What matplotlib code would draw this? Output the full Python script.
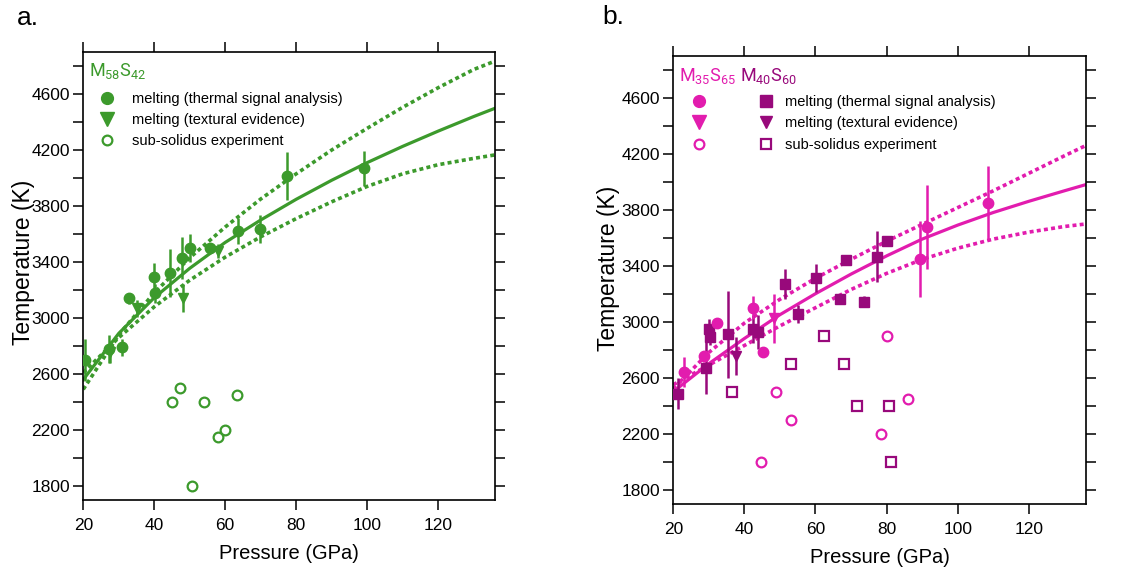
import matplotlib
matplotlib.use("Agg")
import matplotlib.pyplot as plt
from matplotlib.lines import Line2D

plt.rcParams["font.family"] = ["Liberation Sans", "DejaVu Sans"]
plt.rcParams["mathtext.fontset"] = "custom"
plt.rcParams["mathtext.rm"] = "Roboto"

GREEN = "#3c9a2c"
PINK = "#e21cae"
PURPLE = "#98097b"

# axis ticks
x_ticks = [20, 40, 60, 80, 100, 120]
x_tick_labels = ["20", "40", "60", "80", "100", "120"]
y_ticks = [1800, 2000, 2200, 2400, 2600, 2800, 3000, 3200, 3400, 3600,
           3800, 4000, 4200, 4400, 4600, 4800]
y_tick_labels = ["1800", "", "2200", "", "2600", "", "3000", "", "3400", "",
                 "3800", "", "4200", "", "4600", ""]

# ---- panel a : M58S42 ----
a_melt_p = [20.5, 27.2, 31.0, 33.0, 40.2, 40.0, 44.3, 47.8, 50.0, 55.6,
            63.5, 69.9, 77.4, 99.2]
a_melt_t = [2700, 2775, 2790, 3140, 3176, 3291, 3320, 3431, 3502, 3502,
            3621, 3636, 4014, 4069]
a_melt_err = [150, 100, 60, 40, 70, 100, 170, 150, 100, 20,
              90, 100, 170, 125]

a_tex_p = [27.5, 35.2, 48.1, 58.0]
a_tex_t = [2755, 3069, 3141, 3481]
a_tex_err = [80, 60, 100, 50]

a_sub_p = [45.0, 47.3, 50.6, 54.1, 58.0, 60.0, 63.3]
a_sub_t = [2400, 2500, 1800, 2400, 2150, 2200, 2450]

fit_p = [20, 30, 40, 50, 60, 70, 80, 90, 100, 110, 120, 130, 136]
a_fit = [2560, 2890, 3145, 3355, 3540, 3700, 3848, 3984, 4110, 4226, 4335,
         4439, 4498]
a_fit_hi = [2490, 2880, 3180, 3430, 3650, 3850, 4030, 4200, 4355, 4505, 4645,
            4775, 4835]
a_fit_lo = [2610, 2860, 3080, 3270, 3435, 3580, 3710, 3830, 3940, 4030, 4095,
            4140, 4165]

# ---- panel b : M35S65 (pink) and M40S60 (purple) ----
b_melt_p = [23.0, 28.6, 32.2, 42.5, 45.2, 89.3, 91.5, 108.6]
b_melt_t = [2640, 2754, 2994, 3101, 2783, 3447, 3673, 3850]
b_melt_err = [105, 40, 30, 80, 30, 270, 300, 265]

b_tex_p = [48.4]
b_tex_t = [3023]
b_tex_err = [175]

b_sub_p = [44.7, 49.0, 53.2, 78.3, 80.1, 86.0]
b_sub_t = [2000, 2500, 2300, 2200, 2900, 2450]

c_melt_p = [21.4, 29.2, 30.1, 30.4, 35.4, 42.5, 43.7, 51.4, 55.2, 60.2,
            67.0, 68.7, 73.6, 77.2, 80.2]
c_melt_t = [2485, 2669, 2947, 2892, 2911, 2951, 2927, 3269, 3053, 3312,
            3160, 3443, 3144, 3465, 3576]
c_melt_err = [110, 185, 70, 60, 310, 100, 120, 110, 65, 100,
              20, 30, 40, 180, 30]

c_tex_p = [37.7]
c_tex_t = [2754]
c_tex_err = [135]

c_sub_p = [36.6, 53.0, 62.3, 68.0, 71.7, 80.8, 81.3]
c_sub_t = [2500, 2700, 2900, 2700, 2400, 2400, 2000]

b_fit = [2500, 2700, 2880, 3050, 3200, 3340, 3470, 3590, 3690, 3780, 3860,
         3935, 3979]
b_fit_hi = [2520, 2780, 2990, 3160, 3310, 3445, 3575, 3695, 3815, 3935, 4060,
            4185, 4258]
b_fit_lo = [2550, 2690, 2830, 2970, 3100, 3230, 3345, 3445, 3525, 3590, 3640,
            3680, 3698]

legend_labels = ["melting (thermal signal analysis)",
                 "melting (textural evidence)",
                 "sub-solidus experiment"]

DOTS = (0, (1.1, 0.9))
MS = 7.5


def style_axes(ax, ylabel_xy):
    ax.set_xlim(20, 136)
    ax.set_ylim(1700, 4900)
    ax.set_xticks(x_ticks)
    ax.set_xticklabels(x_tick_labels)
    ax.set_yticks(y_ticks)
    ax.set_yticklabels(y_tick_labels)
    ax.tick_params(direction="out", length=7, width=1.1, top=True, right=True,
                   labelsize=12.5)
    ax.tick_params(axis="x", pad=6)
    ax.tick_params(axis="y", pad=2.5)
    for sp in ax.spines.values():
        sp.set_linewidth(1.2)
    ax.set_xlabel("Pressure (GPa)", fontsize=14.5, labelpad=8)
    ax.set_ylabel("Temperature (K)", fontsize=16.5)
    ax.yaxis.set_label_coords(*ylabel_xy)


def draw_fit(ax, mid, hi, lo, color):
    ax.plot(fit_p, mid, color=color, lw=2.3, zorder=2)
    ax.plot(fit_p, hi, color=color, lw=2.6, ls=DOTS, zorder=2)
    ax.plot(fit_p, lo, color=color, lw=2.6, ls=DOTS, zorder=2)


def draw_points(ax, p, t, err, marker, color):
    ax.errorbar(p, t, yerr=err, fmt=marker, color=color, ms=MS, mew=1,
                elinewidth=1.8, capsize=0, zorder=3)


fig = plt.figure(figsize=(11.39, 5.72), dpi=100)
ax_a = fig.add_axes([0.0731, 0.1259, 0.3615, 0.7832])
ax_b = fig.add_axes([0.5911, 0.1194, 0.3621, 0.7832])

# panel a
draw_fit(ax_a, a_fit, a_fit_hi, a_fit_lo, GREEN)
draw_points(ax_a, a_melt_p, a_melt_t, a_melt_err, "o", GREEN)
draw_points(ax_a, a_tex_p, a_tex_t, a_tex_err, "v", GREEN)
ax_a.plot(a_sub_p, a_sub_t, "o", ms=7, mfc="white", mec=GREEN, mew=1.6,
          ls="none", zorder=3)
style_axes(ax_a, (-0.117, 0.53))

h_a = [Line2D([], [], marker="o", ls="none", color=GREEN, ms=MS + 1),
       Line2D([], [], marker="v", ls="none", color=GREEN, ms=MS + 2),
       Line2D([], [], marker="o", ls="none", mfc="white", mec=GREEN,
              mew=1.6, ms=7)]
ax_a.legend(h_a, legend_labels, loc="upper left",
            bbox_to_anchor=(0.034, 0.911), frameon=False, fontsize=10.5,
            handlelength=1.4, handletextpad=0.95, labelspacing=0.5,
            borderpad=0, borderaxespad=0)
ax_a.text(0.014, 0.958, r"$\mathrm{M_{58}S_{42}}$", transform=ax_a.transAxes,
          color=GREEN, fontsize=13, va="center", ha="left")

# panel b
draw_fit(ax_b, b_fit, b_fit_hi, b_fit_lo, PINK)
draw_points(ax_b, c_melt_p, c_melt_t, c_melt_err, "s", PURPLE)
draw_points(ax_b, c_tex_p, c_tex_t, c_tex_err, "v", PURPLE)
draw_points(ax_b, b_melt_p, b_melt_t, b_melt_err, "o", PINK)
draw_points(ax_b, b_tex_p, b_tex_t, b_tex_err, "v", PINK)
ax_b.plot(b_sub_p, b_sub_t, "o", ms=7, mfc="white", mec=PINK, mew=1.6,
          ls="none", zorder=3)
ax_b.plot(c_sub_p, c_sub_t, "s", ms=7, mfc="white", mec=PURPLE, mew=1.6,
          ls="none", zorder=3)
style_axes(ax_b, (-0.128, 0.525))

h_b = [Line2D([], [], marker="o", ls="none", color=PINK, ms=MS + 1),
       Line2D([], [], marker="v", ls="none", color=PINK, ms=MS + 2),
       Line2D([], [], marker="o", ls="none", mfc="white", mec=PINK,
              mew=1.6, ms=7),
       Line2D([], [], marker="s", ls="none", color=PURPLE, ms=MS + 0.5),
       Line2D([], [], marker="v", ls="none", color=PURPLE, ms=MS + 1),
       Line2D([], [], marker="s", ls="none", mfc="white", mec=PURPLE,
              mew=1.6, ms=7)]
ax_b.legend(h_b, ["", "", ""] + legend_labels, loc="upper left", ncol=2,
            bbox_to_anchor=(0.037, 0.913), frameon=False, fontsize=10.5,
            handlelength=1.4, handletextpad=0.6, labelspacing=0.52,
            columnspacing=2.6, borderpad=0, borderaxespad=0)
ax_b.text(0.013, 0.955, r"$\mathrm{M_{35}S_{65}}$", transform=ax_b.transAxes,
          color=PINK, fontsize=13, va="center", ha="left")
ax_b.text(0.162, 0.955, r"$\mathrm{M_{40}S_{60}}$", transform=ax_b.transAxes,
          color=PURPLE, fontsize=13, va="center", ha="left")

fig.text(0.0146, 0.969, "a.", fontsize=19, va="center", ha="left")
fig.text(0.5285, 0.970, "b.", fontsize=19, va="center", ha="left")

fig.savefig("out.png", dpi=100)
